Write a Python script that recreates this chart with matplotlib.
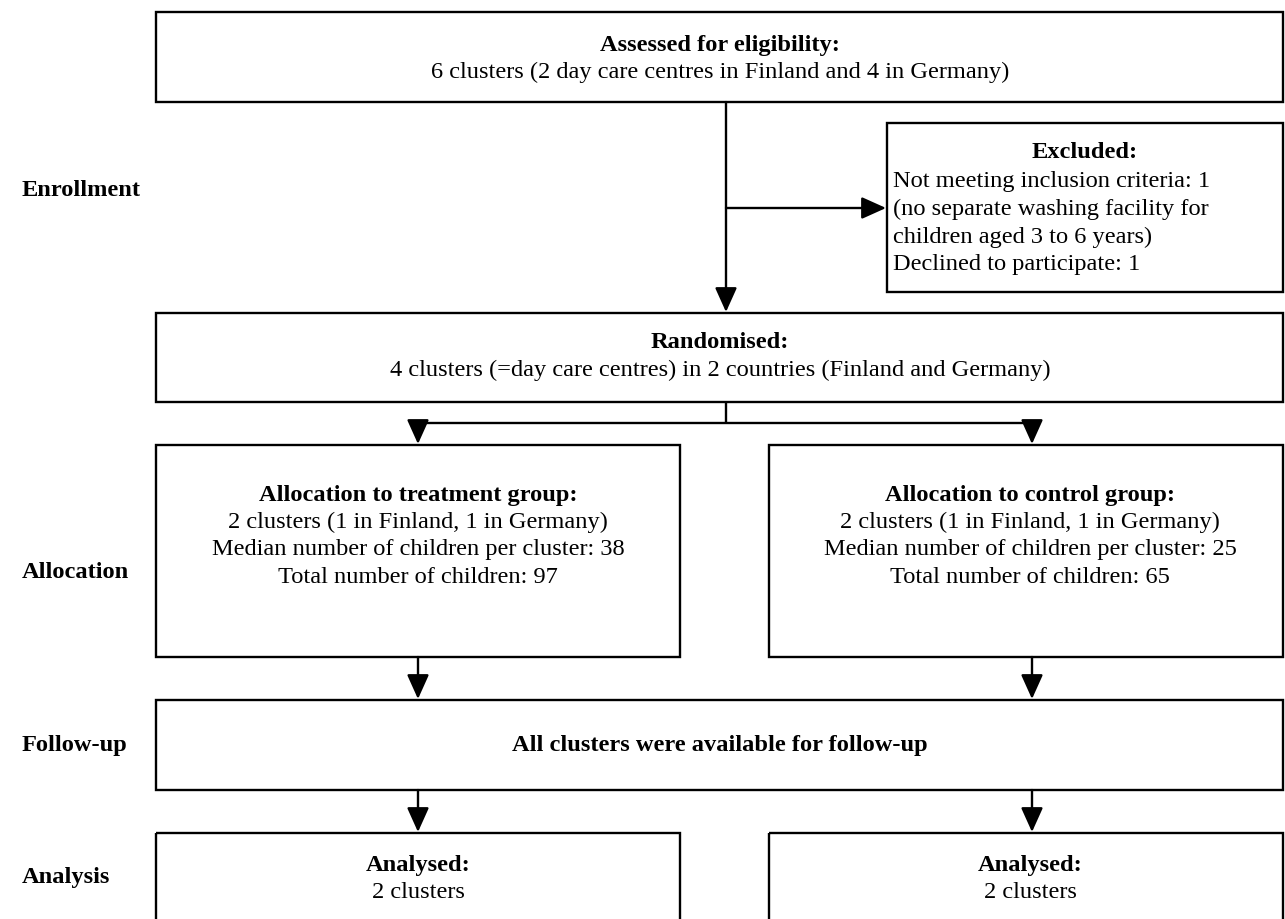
import matplotlib.pyplot as plt
from matplotlib.patches import Rectangle

plt.rcParams['font.family'] = ['Liberation Serif', 'DejaVu Serif']

# Stage labels on the left
stage_labels = ["Enrollment", "Allocation", "Follow-up", "Analysis"]
stage_y = [190, 573, 745, 878]

# Box texts (bold title, then plain lines)
assessed_title = "Assessed for eligibility:"
assessed_lines = ["6 clusters (2 day care centres in Finland and 4 in Germany)"]
excluded_title = "Excluded:"
excluded_lines = ["Not meeting inclusion criteria: 1",
                  "(no separate washing facility for",
                  "children aged 3 to 6 years)",
                  "Declined to participate: 1"]
random_title = "Randomised:"
random_lines = ["4 clusters (=day care centres) in 2 countries (Finland and Germany)"]
treat_title = "Allocation to treatment group:"
treat_lines = ["2 clusters (1 in Finland, 1 in Germany)",
               "Median number of children per cluster: 38",
               "Total number of children: 97"]
control_title = "Allocation to control group:"
control_lines = ["2 clusters (1 in Finland, 1 in Germany)",
                 "Median number of children per cluster: 25",
                 "Total number of children: 65"]
followup_title = "All clusters were available for follow-up"
analysed_title = "Analysed:"
analysed_lines = ["2 clusters"]

W, H = 1285, 919
fig = plt.figure(figsize=(W / 100, H / 100), dpi=100)
ax = fig.add_axes([0, 0, 1, 1])
ax.set_xlim(0, W)
ax.set_ylim(H, 0)
ax.set_axis_off()

FS = 17.6
LW = 1.7
LS = 27.5  # line spacing in px


def box(x0, y0, x1, y1):
    ax.add_patch(Rectangle((x0, y0), x1 - x0, y1 - y0, fill=False,
                           edgecolor="black", linewidth=LW))


def block(cx, ty, title, lines):
    ax.text(cx, ty, title, ha="center", va="center", fontsize=FS,
            fontweight="bold")
    for i, s in enumerate(lines):
        ax.text(cx, ty + LS * (i + 1), s, ha="center", va="center",
                fontsize=FS)


def line(x0, y0, x1, y1):
    ax.plot([x0, x1], [y0, y1], color="black", linewidth=LW,
            solid_capstyle="butt")


def arrow(x0, y0, x1, y1):
    ax.annotate("", xy=(x1, y1), xytext=(x0, y0),
                arrowprops=dict(arrowstyle="-|>,head_length=1.0,head_width=0.45",
                                color="black", lw=LW, shrinkA=0, shrinkB=0,
                                mutation_scale=15))


# stage labels
for s, y in zip(stage_labels, stage_y):
    ax.text(22, y, s, ha="left", va="center", fontsize=FS, fontweight="bold")

# top box
box(156, 12, 1283, 102)
block(720, 45, assessed_title, assessed_lines)
arrow(726, 102, 726, 312)
arrow(726, 208, 886, 208)

# excluded box
box(887, 123, 1283, 292)
ax.text(1085, 153, excluded_title, ha="center", va="center", fontsize=FS,
        fontweight="bold")
for i, s in enumerate(excluded_lines):
    ax.text(893, 182 + LS * i, s, ha="left", va="center", fontsize=FS)

# randomised box
box(156, 313, 1283, 402)
block(720, 343, random_title, random_lines)
line(726, 402, 726, 423)
line(418, 423, 1032, 423)
arrow(418, 423, 418, 444)
arrow(1032, 423, 1032, 444)

# allocation boxes
box(156, 445, 680, 657)
block(418, 495, treat_title, treat_lines)
box(769, 445, 1283, 657)
block(1030, 495, control_title, control_lines)
arrow(418, 657, 418, 699)
arrow(1032, 657, 1032, 699)

# follow-up box
box(156, 700, 1283, 790)
ax.text(720, 745, followup_title, ha="center", va="center", fontsize=FS,
        fontweight="bold")
arrow(418, 790, 418, 832)
arrow(1032, 790, 1032, 832)

# analysis boxes (cut off at the bottom)
box(156, 833, 680, 960)
block(418, 865, analysed_title, analysed_lines)
box(769, 833, 1283, 960)
block(1030, 865, analysed_title, analysed_lines)

fig.savefig("out.png", dpi=100)
